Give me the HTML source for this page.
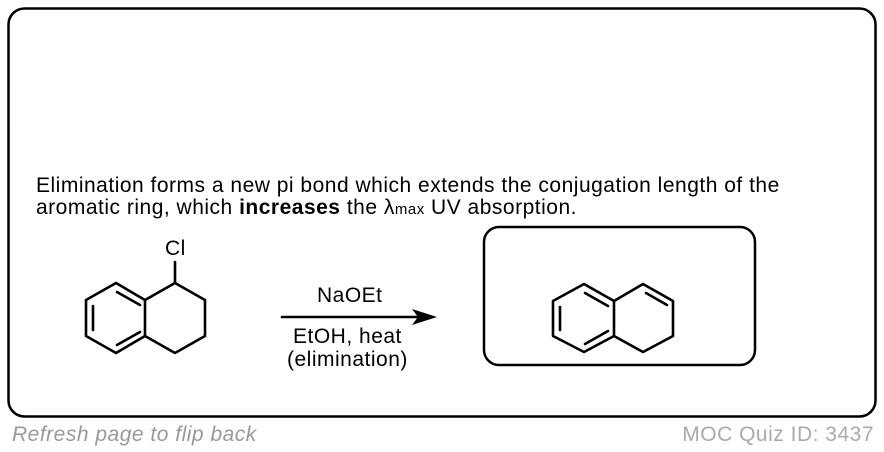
<!DOCTYPE html>
<html><head><style>
body{margin:0;width:884px;height:452px;background:#fff;position:relative;overflow:hidden;font-family:"Liberation Sans",sans-serif;}
.t{position:absolute;font-size:21px;letter-spacing:0.5px;color:#000;white-space:nowrap;line-height:22px;}
</style></head><body>
<svg width="884" height="452" style="position:absolute;left:0;top:0">
<rect x="8.5" y="8.5" width="867" height="408" rx="16" fill="none" stroke="#000" stroke-width="2.5"/>
<rect x="484" y="227" width="271" height="138" rx="15" fill="none" stroke="#000" stroke-width="2.5"/>
<g stroke="#000" stroke-width="2.6" fill="none" stroke-linejoin="round" stroke-linecap="round">
<polygon points="116,283 145,300 145,336 116,353 86,336 86,300"/>
<polyline points="145,300 175,283 205,300 205,336 175,353 145,336"/>
<line x1="175" y1="283" x2="175" y2="262"/>
<line x1="117" y1="292" x2="140" y2="305"/>
<line x1="93" y1="306" x2="93" y2="330"/>
<line x1="117" y1="345" x2="140" y2="332"/>
<polygon points="584,284 614,301 614,336 584,352 553,336 553,301"/>
<polyline points="614,301 643,284 673,301 673,336 643,352 614,336"/>
<line x1="585" y1="293" x2="608" y2="306"/>
<line x1="560" y1="307" x2="560" y2="330"/>
<line x1="585" y1="344" x2="608" y2="331"/>
<line x1="646" y1="293" x2="667" y2="305"/>
<line x1="282" y1="317" x2="420" y2="317"/>
</g>
<polygon points="437,317 412,309 418,317 412,325" fill="#000"/>
</svg>
<div class="t" style="left:36px;top:175px">Elimination forms a new pi bond which extends the conjugation length of the</div>
<div class="t" style="left:36px;top:197px">aromatic ring, which <b>increases</b> the λ<span style="font-size:15px">max</span> UV absorption.</div>
<div class="t" style="left:165px;top:238px">Cl</div>
<div class="t" style="left:317px;top:285px">NaOEt</div>
<div class="t" style="left:293px;top:326px">EtOH, heat</div>
<div class="t" style="left:287px;top:349px">(elimination)</div>
<div class="t" style="left:12px;top:424px;color:#999;font-style:italic">Refresh page to flip back</div>
<div class="t" style="right:10px;top:424px;color:#aaa">MOC Quiz ID: 3437</div>
</body></html>
